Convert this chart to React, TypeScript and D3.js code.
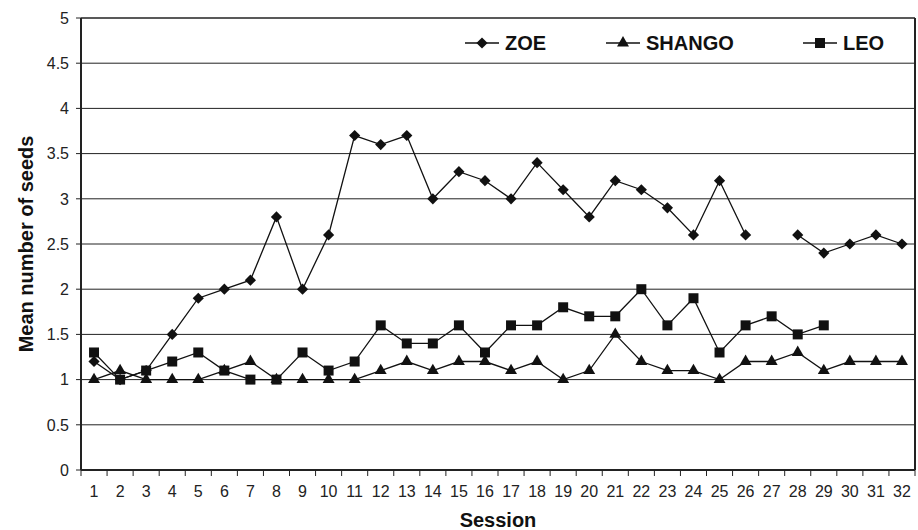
import React from "react";
import * as d3 from "d3";

const sessions = d3.range(1, 33).map(String);
const yTicks = [0, 0.5, 1, 1.5, 2, 2.5, 3, 3.5, 4, 4.5, 5];

const zoe: (number | null)[] = [
  1.2, 1.0, 1.1, 1.5, 1.9, 2.0, 2.1, 2.8, 2.0, 2.6, 3.7, 3.6, 3.7, 3.0, 3.3, 3.2,
  3.0, 3.4, 3.1, 2.8, 3.2, 3.1, 2.9, 2.6, 3.2, 2.6, null, 2.6, 2.4, 2.5, 2.6, 2.5,
];
const shango: (number | null)[] = [
  1.0, 1.1, 1.0, 1.0, 1.0, 1.1, 1.2, 1.0, 1.0, 1.0, 1.0, 1.1, 1.2, 1.1, 1.2, 1.2,
  1.1, 1.2, 1.0, 1.1, 1.5, 1.2, 1.1, 1.1, 1.0, 1.2, 1.2, 1.3, 1.1, 1.2, 1.2, 1.2,
];
const leo: (number | null)[] = [
  1.3, 1.0, 1.1, 1.2, 1.3, 1.1, 1.0, 1.0, 1.3, 1.1, 1.2, 1.6, 1.4, 1.4, 1.6, 1.3,
  1.6, 1.6, 1.8, 1.7, 1.7, 2.0, 1.6, 1.9, 1.3, 1.6, 1.7, 1.5, 1.6, null, null, null,
];

// square diamond (d3's symbolDiamond is too tall)
const diamond = "M0,-5.6L5.6,0L0,5.6L-5.6,0Z";
const triangle = d3.symbol(d3.symbolTriangle, 62)()!;
const square = d3.symbol(d3.symbolSquare, 100)()!;

const series = [
  { name: "ZOE", values: zoe, marker: diamond, legendX: 465 },
  { name: "SHANGO", values: shango, marker: triangle, legendX: 606 },
  { name: "LEO", values: leo, marker: square, legendX: 803 },
];

const W = 918;
const H = 530;
const margin = { top: 18, right: 3, bottom: 60, left: 81 };
const font = "Liberation Sans, Arial, sans-serif";

const App = () => {
  const x = d3
    .scaleBand()
    .domain(sessions)
    .range([margin.left, W - margin.right]);
  const y = d3
    .scaleLinear()
    .domain([0, 5])
    .range([H - margin.bottom, margin.top]);

  const cx = (i: number) => x(sessions[i])! + x.bandwidth() / 2;

  const line = d3
    .line<number | null>()
    .defined((d) => d != null)
    .x((_, i) => cx(i))
    .y((d) => y(d as number));

  return (
    <svg width={W} height={H} style={{ position: "absolute", left: 0, top: 0 }}>
      <rect width={W} height={H} fill="white" />
      {yTicks.map((t) => (
        <g key={t}>
          {t > 0 && t < 5 && (
            <line
              x1={margin.left}
              x2={W - margin.right}
              y1={y(t)}
              y2={y(t)}
              stroke="#222"
              strokeWidth={1}
            />
          )}
          <line x1={margin.left - 5} x2={margin.left} y1={y(t)} y2={y(t)} stroke="#222" />
          <text
            x={margin.left - 12}
            y={y(t)}
            dy="0.36em"
            textAnchor="end"
            fontFamily={font}
            fontSize={16}
            fill="#222"
          >
            {t}
          </text>
        </g>
      ))}
      {/* frame */}
      <line x1={margin.left} x2={W - margin.right} y1={y(5)} y2={y(5)} stroke="#222" strokeWidth={1.5} />
      <line x1={W - margin.right} x2={W - margin.right} y1={y(5)} y2={y(0)} stroke="#222" strokeWidth={2} />
      <line x1={margin.left} x2={margin.left} y1={y(5)} y2={y(0)} stroke="#222" strokeWidth={2} />
      <line x1={margin.left} x2={W - margin.right} y1={y(0)} y2={y(0)} stroke="#222" strokeWidth={2} />
      {sessions.map((s, i) => (
        <g key={s}>
          <line x1={x(s)!} x2={x(s)!} y1={y(0)} y2={y(0) + 6} stroke="#222" />
          {i === sessions.length - 1 && (
            <line
              x1={x(s)! + x.bandwidth()}
              x2={x(s)! + x.bandwidth()}
              y1={y(0)}
              y2={y(0) + 6}
              stroke="#222"
            />
          )}
          <text
            x={cx(i)}
            y={y(0) + 27}
            textAnchor="middle"
            fontFamily={font}
            fontSize={16}
            fill="#222"
          >
            {s}
          </text>
        </g>
      ))}

      {series.map((sr) => (
        <g key={sr.name}>
          <path d={line(sr.values) ?? ""} fill="none" stroke="#111" strokeWidth={1.3} />
          {sr.values.map((v, i) =>
            v == null ? null : (
              <path
                key={i}
                transform={`translate(${cx(i)},${y(v)})`}
                d={sr.marker}
                fill="#111"
              />
            )
          )}
        </g>
      ))}

      {series.map((sr) => (
        <g key={sr.name} transform={`translate(${sr.legendX},43)`}>
          <line x1={0} x2={34} y1={0} y2={0} stroke="#111" strokeWidth={1.3} />
          <path transform="translate(17,0)" d={sr.marker} fill="#111" />
          <text
            x={40}
            y={0}
            dy="0.36em"
            fontFamily={font}
            fontWeight="bold"
            fontSize={20}
            fill="#111"
          >
            {sr.name}
          </text>
        </g>
      ))}

      <text
        transform={`translate(33,${(y(0) + y(5)) / 2}) rotate(-90)`}
        textAnchor="middle"
        fontFamily={font}
        fontWeight="bold"
        fontSize={20}
        fill="#111"
      >
        Mean number of seeds
      </text>
      <text
        x={(margin.left + W - margin.right) / 2}
        y={527}
        textAnchor="middle"
        fontFamily={font}
        fontWeight="bold"
        fontSize={20}
        fill="#111"
      >
        Session
      </text>
    </svg>
  );
};

export default App;
